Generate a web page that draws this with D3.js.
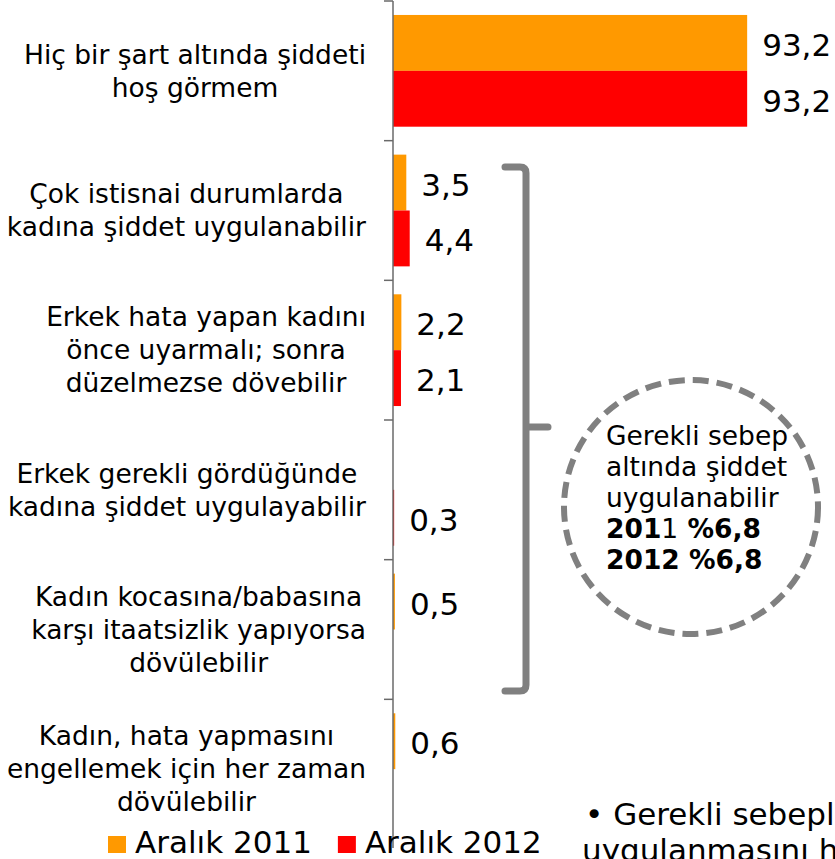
<!DOCTYPE html>
<html lang="tr">
<head>
<meta charset="utf-8">
<title>Şiddete bakış</title>
<script src="https://cdn.jsdelivr.net/npm/d3@7"></script>
<style>
  html, body { margin: 0; padding: 0; background: #fff; overflow: hidden; }
  svg { display: block; font-family: "DejaVu Sans", Verdana, sans-serif; }
</style>
</head>
<body>
<svg id="chart" width="835" height="859"></svg>
<script>
// Category labels (line breaks marked with \n)
const categories = [
  "Hiç bir şart altında şiddeti\nhoş görmem",
  "Çok istisnai durumlarda\nkadına şiddet uygulanabilir",
  "Erkek hata yapan kadını\nönce uyarmalı; sonra\ndüzelmezse dövebilir",
  "Erkek gerekli gördüğünde\nkadına şiddet uygulayabilir",
  "Kadın kocasına/babasına\nkarşı itaatsizlik yapıyorsa\ndövülebilir",
  "Kadın, hata yapmasını\nengellemek için her zaman\ndövülebilir"
];

// Percentages per survey wave (null = not reported)
const aralik2011 = [93.2, 3.5, 2.2, null, 0.5, 0.6];
const aralik2012 = [93.2, 4.4, 2.1, 0.3, null, null];

const seriesNames = ["Aralık 2011", "Aralık 2012"];

// Summary shown inside the dashed circle
const summaryLines = ["Gerekli sebep", "altında şiddet", "uygulanabilir"];
const summaryTotals = [
  { year: "2011", value: 6.8 },
  { year: "2012", value: 6.8 }
];

// Footnote lines at the bottom right
const noteLines = ["• Gerekli sebepl", "uygulanmasını h"];

const COLORS = ["#FF9900", "#FF0000"];

const svg = d3.select("#chart");

const tr = d3.formatLocale({ decimal: ",", thousands: ".", grouping: [3], currency: ["", "%"] });
const fmt = tr.format(".1f");

const axisX = 393;
const x = d3.scaleLinear().domain([0, 100]).range([axisX, axisX + 380]);

const y = d3.scaleBand()
  .domain(d3.range(categories.length))
  .range([1, 839])
  .paddingInner(0.2)
  .paddingOuter(0.1);

const ySub = d3.scaleBand().domain([0, 1]).range([0, y.bandwidth()]);

const series = [aralik2011, aralik2012];

// Bars
const groups = svg.append("g").selectAll("g")
  .data(categories.map((c, i) => i))
  .join("g")
  .attr("transform", i => `translate(0,${y(i)})`);

groups.selectAll("rect")
  .data(i => series.map((s, k) => ({ k, v: s[i] })).filter(d => d.v != null))
  .join("rect")
  .attr("x", x(0))
  .attr("y", d => ySub(d.k))
  .attr("width", d => x(d.v) - x(0))
  .attr("height", ySub.bandwidth())
  .attr("fill", d => COLORS[d.k]);

// Value labels
groups.selectAll("text.val")
  .data(i => series.map((s, k) => ({ k, v: s[i] })).filter(d => d.v != null))
  .join("text")
  .attr("class", "val")
  .attr("x", d => x(d.v) + 15)
  .attr("y", d => ySub(d.k) + ySub.bandwidth() / 2)
  .attr("dy", "0.42em")
  .attr("font-size", 31)
  .attr("fill", "#000")
  .text(d => fmt(d.v));

// Category axis: line with ticks at band boundaries
const axisG = svg.append("g").attr("stroke", "#6a6a6a");
axisG.append("line")
  .attr("x1", axisX).attr("x2", axisX)
  .attr("y1", y.range()[0]).attr("y2", 848)
  .attr("stroke-width", 1.5);
axisG.selectAll("line.tick")
  .data(d3.range(categories.length))
  .join("line")
  .attr("class", "tick")
  .attr("x1", axisX - 9).attr("x2", axisX)
  .attr("y1", i => y.range()[0] + i * y.step())
  .attr("y2", i => y.range()[0] + i * y.step())
  .attr("stroke-width", 1.5);

// Category labels: each block centred on its widest line, block right-aligned
const labelRight = 366, lineH = 33, catFont = 26.5;
categories.forEach((c, i) => {
  const lines = c.split("\n");
  const cy = y(i) + y.bandwidth() / 2;
  const t = svg.append("text")
    .attr("font-size", catFont)
    .attr("text-anchor", "middle")
    .attr("fill", "#000");
  const spans = lines.map((ln, j) => t.append("tspan")
    .attr("y", cy - (lines.length - 1) * lineH / 2 + j * lineH + catFont * 0.35)
    .text(ln));
  const maxW = d3.max(spans, s => s.node().getComputedTextLength());
  spans.forEach(s => s.attr("x", labelRight - maxW / 2));
});

// Curly bracket grouping the conditional answers
const br = d3.path();
br.moveTo(505, 167);
br.lineTo(520, 167);
br.quadraticCurveTo(526, 167, 526, 173);
br.lineTo(526, 685);
br.quadraticCurveTo(526, 691, 520, 691);
br.lineTo(505, 691);
br.moveTo(526, 427);
br.lineTo(548, 427);
svg.append("path")
  .attr("d", br.toString())
  .attr("fill", "none")
  .attr("stroke", "#808080")
  .attr("stroke-width", 7)
  .attr("stroke-linecap", "round");

// Dashed circle with totals
svg.append("circle")
  .attr("cx", 691).attr("cy", 507).attr("r", 127)
  .attr("fill", "#fff")
  .attr("stroke", "#808080")
  .attr("stroke-width", 6)
  .attr("stroke-dasharray", "16 8");

const sumFont = 26.5, sumLH = 31, sumX = 606, sumY0 = 445;
const st = svg.append("text").attr("font-size", sumFont).attr("fill", "#000");
summaryLines.forEach((ln, j) => {
  st.append("tspan").attr("x", sumX).attr("y", sumY0 + j * sumLH).text(ln);
});
summaryTotals.forEach((d, j) => {
  const ty = sumY0 + (summaryLines.length + j) * sumLH;
  const line = svg.append("text").attr("x", sumX).attr("y", ty)
    .attr("font-size", sumFont).attr("fill", "#000");
  if (j === 0) {
    line.append("tspan").attr("font-weight", "bold").text(d.year.slice(0, 3));
    line.append("tspan").text(d.year.slice(3));
  } else {
    line.append("tspan").attr("font-weight", "bold").text(d.year);
  }
  line.append("tspan").attr("font-weight", "bold").text(" %" + fmt(d.value));
});

// Legend
const legend = svg.append("g");
let lx = 108;
seriesNames.forEach((name, k) => {
  legend.append("rect")
    .attr("x", lx).attr("y", 836).attr("width", 18).attr("height", 17)
    .attr("fill", COLORS[k]);
  const t = legend.append("text")
    .attr("x", lx + 27).attr("y", 853)
    .attr("font-size", 31).attr("fill", "#000")
    .text(name);
  lx = lx + 27 + t.node().getComputedTextLength() + 26;
});

// Footnote
svg.append("g").selectAll("text")
  .data(noteLines)
  .join("text")
  .attr("x", (d, j) => j === 0 ? 585 : 582)
  .attr("y", (d, j) => 825 + j * 36)
  .attr("font-size", 31)
  .attr("fill", "#000")
  .text(d => d);
</script>
</body>
</html>
